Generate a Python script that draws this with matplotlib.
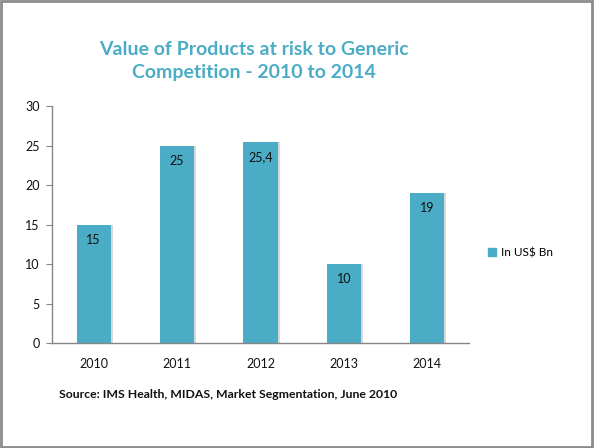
import matplotlib
matplotlib.use("Agg")
import matplotlib.pyplot as plt
from matplotlib.patches import Rectangle

years = ["2010", "2011", "2012", "2013", "2014"]
values = [15, 25, 25.4, 10, 19]
value_labels = ["15", "25", "25,4", "10", "19"]
yticks = [0, 5, 10, 15, 20, 25, 30]

BAR = "#4BACC6"
AXIS = "#868686"
FONT = ["Lato", "DejaVu Sans"]

fig = plt.figure(figsize=(5.94, 4.48), dpi=100, facecolor="white")
ax = fig.add_axes([52 / 594, 105 / 448, 417 / 594, 237 / 448])

x = list(range(len(years)))
# soft shadow on the right of each bar
ax.bar([i + 0.025 for i in x], values, width=0.41, color="#D9D9D9", zorder=1)
bars = ax.bar(x, values, width=0.41, color=BAR, zorder=2)

for i, (v, lab) in enumerate(zip(values, value_labels)):
    ax.text(i, v - 1.9, lab, ha="center", va="center", fontsize=9,
            family=FONT, color="#111111", zorder=3)

ax.set_xlim(-0.5, len(years) - 0.5)
ax.set_ylim(0, 30)
ax.set_yticks(yticks)
ax.set_xticks(x)
ax.set_xticklabels(years)
for sp in ("top", "right"):
    ax.spines[sp].set_visible(False)
for sp in ("left", "bottom"):
    ax.spines[sp].set_color(AXIS)
    ax.spines[sp].set_linewidth(1.0)
ax.tick_params(axis="y", length=4, color=AXIS, labelsize=9, pad=5)
ax.tick_params(axis="x", length=0, labelsize=9, pad=11)
for t in ax.get_xticklabels() + ax.get_yticklabels():
    t.set_family(FONT)
    t.set_color("#111111")

ax.legend(handles=[Rectangle((0, 0), 1, 1, color=BAR)], labels=["In US$ Bn"],
          loc="center left", bbox_to_anchor=(1.02, 0.38), frameon=False,
          prop={"family": FONT, "size": 8.5}, handlelength=0.7, handleheight=0.7,
          handletextpad=0.4)

fig.text(254 / 594, 1 - 61 / 448,
         "Value of Products at risk to Generic\nCompetition - 2010 to 2014",
         ha="center", va="center", fontsize=14, fontweight="bold",
         color=BAR, family=FONT, linespacing=1.45)

fig.text(59 / 594, 1 - 394 / 448,
         "Source: IMS Health, MIDAS, Market Segmentation, June 2010",
         ha="left", va="center", fontsize=8.8, fontweight="bold",
         color="#111111", family=FONT)

fig.patches.append(Rectangle((0.001, 0.002), 0.996, 0.996, transform=fig.transFigure,
                             fill=False, edgecolor="#8C8C8C", linewidth=2))

fig.savefig("out.png", dpi=100, facecolor="white")
